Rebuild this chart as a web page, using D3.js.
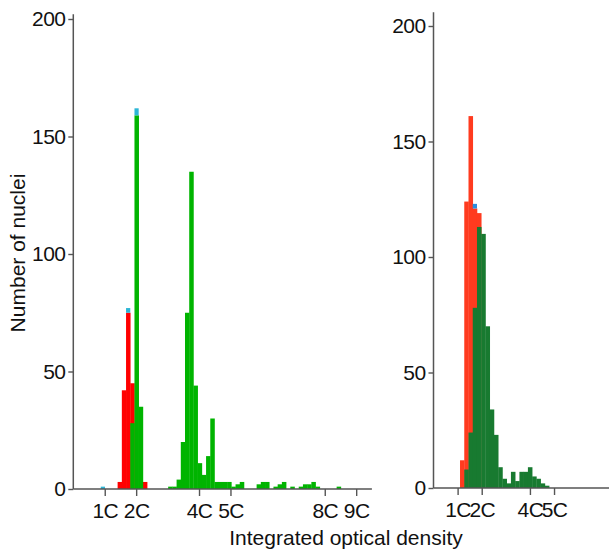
<!DOCTYPE html>
<html>
<head>
<meta charset="utf-8">
<script src="https://cdn.jsdelivr.net/npm/d3@7"></script>
<style>
  body { margin: 0; background: #fff; }
  svg { display: block; font-family: "Liberation Sans", Arial, Helvetica, sans-serif; }
  .tick text { font-size: 21px; fill: #111; }
</style>
</head>
<body>
<div id="chart"></div>
<script>
// Left histogram: bins start at 0.874C, width 0.134C
const leftBinStart = 0.874;
const leftBinWidth = 0.134;
const leftRed = [0, 0, 0, 0, 3, 42, 75, 45, 0, 0, 3, 0, 0, 0, 0, 0, 0, 0, 0, 0,
    0, 0, 0, 0, 0, 0, 0, 0, 0, 0, 0, 0, 0, 0, 0, 0, 0, 0, 0, 0,
    0, 0, 0, 0, 0, 0, 0, 0, 0, 0, 0, 0, 0, 0, 0, 0, 0];
const leftGreen = [0, 0, 0, 0, 0, 0, 0, 28, 159, 35, 0, 0, 0, 0, 0, 0, 1, 1, 4, 20,
    75, 135, 44, 11, 6, 14, 30, 3, 3, 3, 3, 1, 2, 3, 0, 0, 0, 2, 3, 3,
    0, 1, 2, 3, 0, 1, 0, 1, 2, 2, 3, 1, 0, 0, 0, 0, 1];
const leftCyan = [1, 0, 0, 0, 0, 0, 2, 0, 3, 0, 0, 0, 0, 0, 0, 0, 0, 0, 0, 0,
    0, 0, 0, 0, 0, 0, 0, 0, 0, 0, 0, 0, 0, 0, 0, 0, 0, 0, 0, 0,
    0, 0, 0, 0, 0, 0, 0, 0, 0, 0, 0, 0, 0, 0, 0, 0, 0];
const leftTicks = [1, 2, 4, 5, 8, 9];

// Right histogram: bins start at 1.10C, width 0.176C
const rightBinStart = 1.10;
const rightBinWidth = 0.176;
const rightRed = [12, 124, 161, 121, 119, 0, 0, 0, 0, 0, 0, 0, 0, 0, 0, 0, 0, 0, 0, 0, 0];
const rightGreen = [0, 8, 24, 78, 113, 110, 70, 34, 23, 9, 4, 2, 7, 3, 7, 7, 9, 5, 4, 2, 1];
const rightBlue = [0, 0, 0, 2, 0, 0, 0, 0, 0, 0, 0, 0, 0, 0, 0, 0, 0, 0, 0, 0, 0];
const rightTicks = [1, 2, 4, 5];

const yTicks = [0, 50, 100, 150, 200];

const svg = d3.select('#chart')
    .append('svg')
    .attr('width', 609)
    .attr('height', 552);

function toBins(counts, start, width) {
    return counts.map((c, i) => ({ x0: start + i * width, x1: start + (i + 1) * width, n: c }));
}

function drawPanel(opts) {
    const { x, y, red, green, cap, start, width, colors, ticks, yTop } = opts;
    const g = svg.append('g');

    const redBins = toBins(red, start, width).filter(d => d.n > 0);
    const greenBins = toBins(green, start, width).filter(d => d.n > 0);
    const capBins = cap.map((c, i) => ({
        x0: start + i * width,
        x1: start + (i + 1) * width,
        base: Math.max(red[i], green[i]),
        n: c
    })).filter(d => d.n > 0);

    // red first, green over it, caps stacked on top
    g.selectAll('.red')
        .data(redBins)
        .enter()
        .append('rect')
        .attr('x', d => x(d.x0))
        .attr('width', d => x(d.x1) - x(d.x0) + 0.3)
        .attr('y', d => y(d.n))
        .attr('height', d => y(0) - y(d.n))
        .attr('fill', colors.red);

    g.selectAll('.green')
        .data(greenBins)
        .enter()
        .append('rect')
        .attr('x', d => x(d.x0))
        .attr('width', d => x(d.x1) - x(d.x0) + 0.3)
        .attr('y', d => y(d.n))
        .attr('height', d => y(0) - y(d.n))
        .attr('fill', colors.green);

    g.selectAll('.cap')
        .data(capBins)
        .enter()
        .append('rect')
        .attr('x', d => x(d.x0))
        .attr('width', d => x(d.x1) - x(d.x0))
        .attr('y', d => y(d.base + d.n))
        .attr('height', d => y(d.base) - y(d.base + d.n))
        .attr('fill', colors.cap);

    // axes
    const yAxis = g.append('g')
        .attr('transform', `translate(${x(0)},0)`)
        .call(d3.axisLeft(y).tickValues(yTicks).tickSize(5).tickSizeOuter(0).tickPadding(3));
    yAxis.select('.domain').remove();

    const xAxis = g.append('g')
        .attr('transform', `translate(0,${y(0)})`)
        .call(d3.axisBottom(x).tickValues(ticks).tickFormat(d => d + 'C')
            .tickSize(7).tickSizeOuter(0).tickPadding(7));
    xAxis.select('.domain').remove();

    g.selectAll('.tick line').attr('stroke', '#555').attr('stroke-width', 1.4);
    g.selectAll('.tick text').attr('letter-spacing', '-0.6px');

    g.append('line')
        .attr('x1', x(0)).attr('x2', x(0))
        .attr('y1', y(0)).attr('y2', y(yTop))
        .attr('stroke', '#555').attr('stroke-width', 1.5);
    g.append('line')
        .attr('x1', x(0)).attr('x2', x(x.domain()[1]))
        .attr('y1', y(0)).attr('y2', y(0))
        .attr('stroke', '#555').attr('stroke-width', 1.5);
}

const xL = d3.scaleLinear().domain([0, 9.5]).range([73.3, 371.9]);
const yL = d3.scaleLinear().domain([0, 200]).range([489, 19]);
const xR = d3.scaleLinear().domain([0, 7.28]).range([433.5, 609]);
const yR = d3.scaleLinear().domain([0, 200]).range([488, 26]);

drawPanel({
    x: xL, y: yL, red: leftRed, green: leftGreen, cap: leftCyan,
    start: leftBinStart, width: leftBinWidth, ticks: leftTicks, yTop: 202,
    colors: { red: '#ff0000', green: '#00b400', cap: '#2db6d6' }
});

drawPanel({
    x: xR, y: yR, red: rightRed, green: rightGreen, cap: rightBlue,
    start: rightBinStart, width: rightBinWidth, ticks: rightTicks, yTop: 206,
    colors: { red: '#ff3b1f', green: '#187a30', cap: '#2a8ee0' }
});

// titles
svg.append('text')
    .attr('transform', 'translate(25,253) rotate(-90)')
    .attr('text-anchor', 'middle')
    .style('font-size', '21px')
    .attr('fill', '#111')
    .text('Number of nuclei');

svg.append('text')
    .attr('x', 346)
    .attr('y', 545)
    .attr('text-anchor', 'middle')
    .style('font-size', '21px')
    .attr('fill', '#111')
    .text('Integrated optical density');
</script>
</body>
</html>
